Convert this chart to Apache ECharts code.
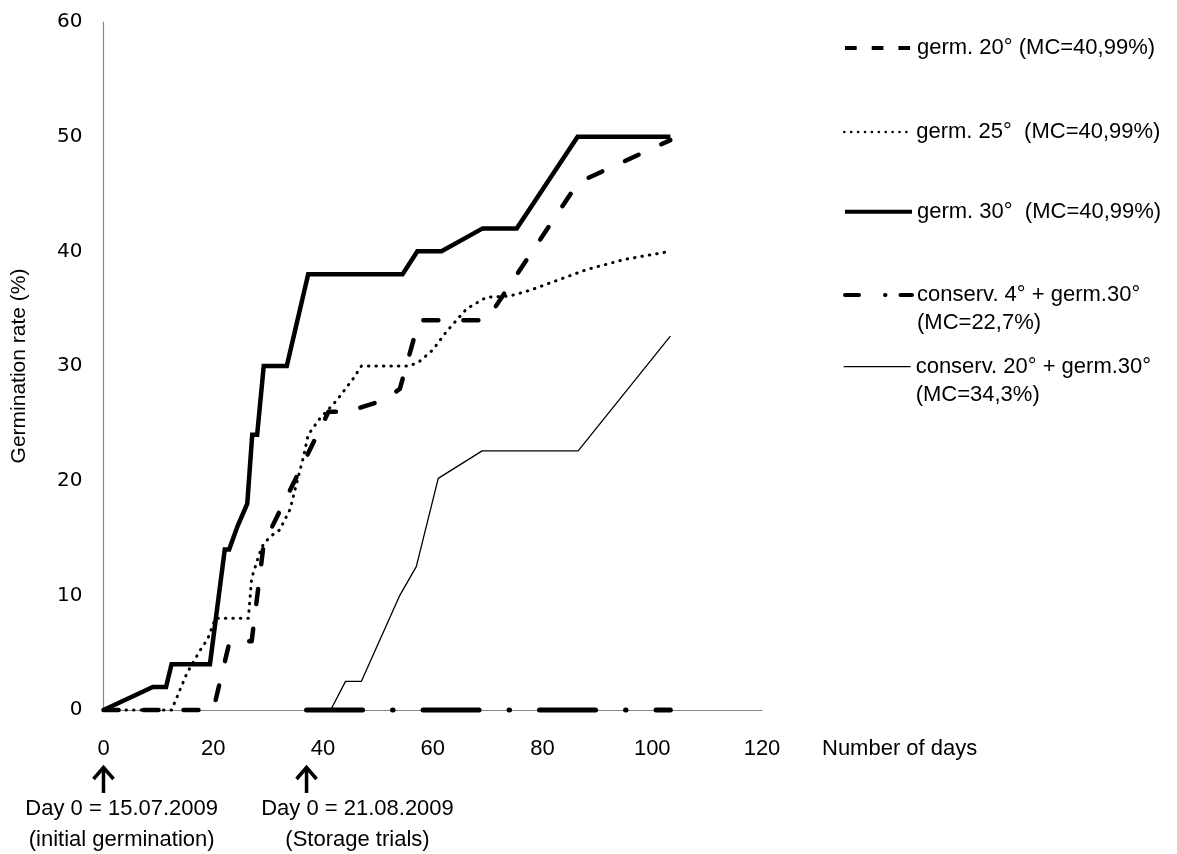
<!DOCTYPE html>
<html><head><meta charset="utf-8">
<script src="https://cdn.jsdelivr.net/npm/echarts@6/dist/echarts.min.js"></script>
<style>html,body{margin:0;padding:0;background:#fff}#c{width:1177px;height:854px}</style>
</head><body><div id="c"></div>
<script>
// ---- data (days, germination rate %) ----
const seriesNames = [
  'germ. 20° (MC=40,99%)',
  'germ. 25°  (MC=40,99%)',
  'germ. 30°  (MC=40,99%)',
  'conserv. 4° + germ.30°\n(MC=22,7%)',
  'conserv. 20° + germ.30°\n(MC=34,3%)'
];
const daysG20 = [0, 20, 23, 27, 29.2, 41, 44.3, 51, 54, 57.5, 69.8, 86.5, 103.3];
const rateG20 = [0, 0, 6, 6, 14.5, 26, 26, 27, 28, 34, 34, 46, 49.7];
const daysG25 = [0, 12.4, 15.2, 17.6, 19, 20.4, 26.4, 27, 28.8, 30.3, 32.1, 34, 34.9, 36.4, 37.3, 39.4, 42.5, 45.5, 47, 55.8, 57.6, 60, 62.5, 66.2, 69.8, 74, 77.7, 88, 95, 103.3];
const rateG25 = [0, 0, 3.2, 5.2, 6.2, 8, 8, 11.5, 14.2, 15.1, 15.7, 17.5, 19.2, 22, 24, 25.4, 27, 28.9, 30, 30, 30.4, 31.4, 33, 35, 36, 36.1, 36.6, 38.4, 39.3, 40];
const daysG30 = [0, 9, 11.4, 12.4, 19.4, 22.1, 22.9, 24.4, 26.2, 27.1, 28, 29.2, 33.4, 37.3, 54.5, 57.2, 61.6, 69.1, 75.3, 86.4, 103.3];
const rateG30 = [0, 2, 2, 4, 4, 14, 14, 16, 18, 24, 24, 30, 30, 38, 38, 40, 40, 42, 42, 50, 50];
const daysStorage = [37, 41.4, 44.1, 47, 54, 57, 61, 69, 86.5, 103.3];
const rateC4 = [0, 0, 0, 0, 0, 0, 0, 0, 0, 0];
const rateC20 = [0, 0, 2.5, 2.5, 10, 12.5, 20.2, 22.6, 22.6, 32.6];
const xMin = 0, xMax = 120, xStep = 20;
const yMin = 0, yMax = 60, yStep = 10;
const xAxisTitle = 'Number of days';
const yAxisTitle = 'Germination rate (%)';
const annotationDays = [0, 37];
const annotationTexts = [['Day 0 = 15.07.2009', '(initial germination)'], ['Day 0 = 21.08.2009', '(Storage trials)']];

// ---- styling ----
const FONT = "'Liberation Sans', Arial, sans-serif";
const zip = (a, b) => a.map((v, i) => [v, b[i]]);
const seriesData = [zip(daysG20, rateG20), zip(daysG25, rateG25), zip(daysG30, rateG30), zip(daysStorage, rateC4), zip(daysStorage, rateC20)];
const lineStyles = [
  {color: '#000', width: 4.5, type: [15, 25], cap: 'round', join: 'round'},
  {color: '#000', width: 3, type: [0.5, 7], cap: 'round', join: 'round'},
  {color: '#000', width: 4.5, type: 'solid', cap: 'butt', join: 'miter'},
  {color: '#000', width: 5, type: [56, 30, 0.5, 30], cap: 'round', join: 'round'},
  {color: '#000', width: 1.3, type: 'solid'}
];
const legendLines = [
  {color: '#000', width: 4, type: [11.7, 15], cap: 'butt'},
  {color: '#000', width: 2.5, type: [0.1, 6.8], cap: 'round'},
  {color: '#000', width: 4, type: 'solid'},
  {color: '#000', width: 4, type: [14, 26, 0.5, 15], cap: 'round'},
  {color: '#000', width: 1.3, type: 'solid'}
];
const legendCenters = [48, 132, 211.7, 295, 366.7];
const LH = 30, LH2 = 28;

const chart = echarts.init(document.getElementById('c'), null, {renderer: 'canvas'});
const legends = seriesNames.map((n, i) => {
  const multi = n.indexOf('\n') >= 0;
  return {
    data: [{name: n, lineStyle: legendLines[i], itemStyle: {opacity: 0, color: 'rgba(0,0,0,0)', borderWidth: 0}}],
    orient: 'vertical', left: 843,
    top: multi ? legendCenters[i] - 1.5 * LH2 : legendCenters[i] - LH / 2,
    padding: 0, itemWidth: 67, itemHeight: 10, selectedMode: false,
    formatter: multi ? (name => '\u00a0\n' + name) : undefined,
    textStyle: {fontFamily: FONT, fontSize: 22, color: '#000', lineHeight: multi ? LH2 : LH}
  };
});
chart.setOption({
  animation: false,
  backgroundColor: '#fff',
  grid: {left: 103.5, right: 415, top: 22, bottom: 144, containLabel: false},
  legend: legends,
  xAxis: {
    type: 'value', min: xMin, max: xMax, interval: xStep,
    axisLine: {show: true, onZero: false, lineStyle: {color: '#868686', width: 1.2}},
    axisTick: {show: false}, splitLine: {show: false},
    axisLabel: {margin: 28, fontFamily: FONT, fontSize: 22, color: '#000', showMaxLabel: true},
    name: xAxisTitle, nameLocation: 'end', nameGap: 60,
    nameTextStyle: {fontFamily: FONT, fontSize: 22, color: '#000', align: 'left', verticalAlign: 'top', padding: [28, 0, 0, 0]}
  },
  yAxis: {
    type: 'value', min: yMin, max: yMax, interval: yStep,
    axisLine: {show: true, lineStyle: {color: '#868686', width: 1.2}},
    axisTick: {show: false}, splitLine: {show: false},
    axisLabel: {margin: 21, fontFamily: "'DejaVu Sans', sans-serif", fontSize: 20, color: '#000'},
    name: yAxisTitle, nameLocation: 'middle', nameRotate: 90, nameGap: 74,
    nameTextStyle: {fontFamily: FONT, fontSize: 21, color: '#000'}
  },
  series: seriesNames.map((n, i) => ({
    name: n, type: 'line', data: seriesData[i], symbol: 'none', showSymbol: false,
    clip: false, lineStyle: lineStyles[i], itemStyle: {color: '#000'}, z: 3 + i
  }))
});

const textCenters = [121.7, 357.5];
const graphics = [];
annotationDays.forEach((d, i) => {
  const px = chart.convertToPixel({xAxisIndex: 0}, d);
  graphics.push({type: 'polyline', shape: {points: [[px, 767], [px, 793]]}, style: {stroke: '#000', lineWidth: 3.5, fill: null}});
  graphics.push({type: 'polyline', shape: {points: [[px - 10, 779], [px, 767.5], [px + 10, 779]]}, style: {stroke: '#000', lineWidth: 3.5, fill: null, lineJoin: 'miter'}});
  annotationTexts[i].forEach((t, j) => {
    graphics.push({type: 'text', x: textCenters[i], y: 809 + j * 31,
      style: {text: t, fontFamily: FONT, fontSize: 22, fill: '#000', align: 'center', verticalAlign: 'middle'}});
  });
});
chart.setOption({graphic: graphics});
</script>
</body></html>
